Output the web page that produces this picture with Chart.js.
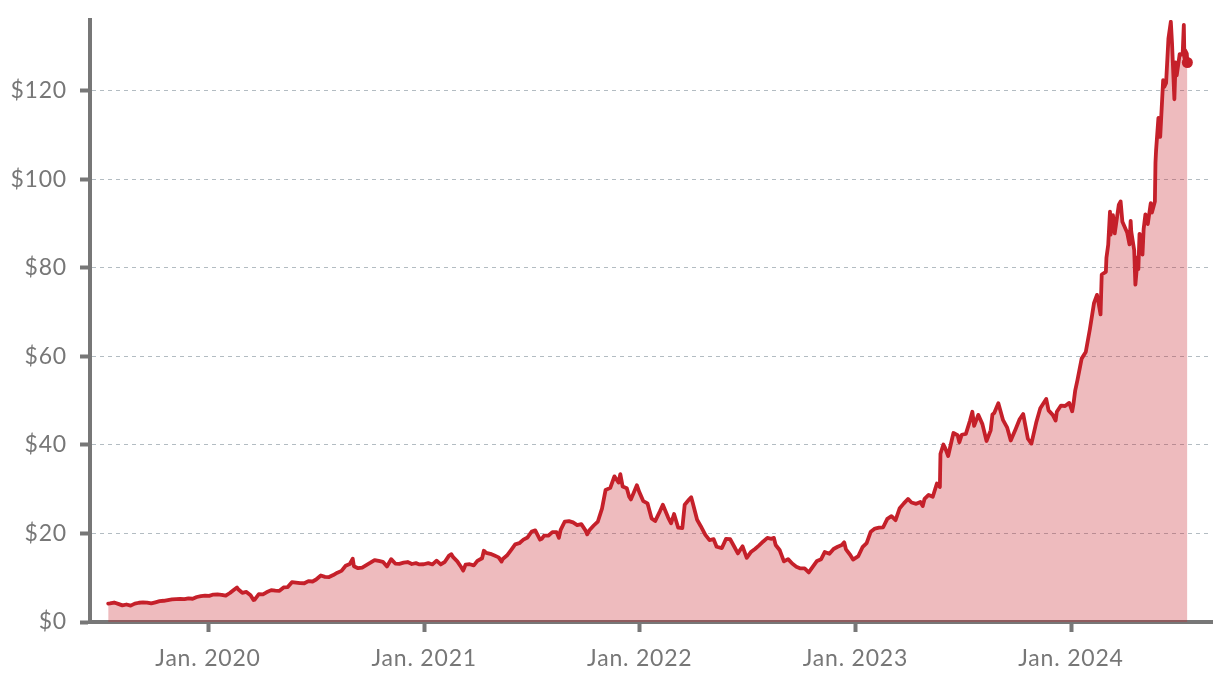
<!DOCTYPE html>
<html>
<head>
<meta charset="utf-8">
<script src="https://cdn.jsdelivr.net/npm/chart.js@4.4.1/dist/chart.umd.min.js"></script>
<style>
  html, body { margin: 0; padding: 0; background: #ffffff; }
  #wrap { width: 1220px; height: 682px; }
</style>
</head>
<body>
<div id="wrap"><canvas id="c" width="1220" height="682"></canvas></div>
<script>
// ---- data (closing price, USD) ----
const dates2019 = ['07-16','07-19','07-26','08-02','08-09','08-16','08-23','08-30','09-06','09-13','09-20','09-27','10-04','10-11','10-18','10-25','11-01','11-08','11-15','11-22','11-29','12-06','12-13','12-20','12-27'];
const prices2019 = [4.15,4.20,4.40,4.10,3.75,3.95,3.70,4.15,4.35,4.45,4.40,4.20,4.45,4.70,4.80,4.95,5.10,5.15,5.20,5.15,5.35,5.25,5.65,5.85,5.95];

const dates2020 = ['01-03','01-10','01-17','01-24','01-31','02-07','02-14','02-19','02-21','02-28','03-06','03-13','03-18','03-20','03-27','04-03','04-09','04-17','04-24','05-01','05-08','05-15','05-22','05-29','06-05','06-12','06-19','06-26','07-02','07-10','07-17','07-24','07-31','08-07','08-14','08-21','08-28','09-02','09-04','09-11','09-18','09-25','10-02','10-09','10-16','10-23','10-30','11-06','11-13','11-20','11-27','12-04','12-11','12-18','12-24','12-31'];
const prices2020 = [5.90,6.20,6.25,6.15,5.95,6.55,7.30,7.80,7.40,6.60,6.80,6.05,4.95,5.05,6.30,6.25,6.70,7.20,7.10,7.05,7.80,7.90,9.00,8.90,8.80,8.75,9.25,9.15,9.60,10.50,10.20,10.15,10.60,11.15,11.55,12.70,13.10,14.30,12.60,12.15,12.30,12.85,13.40,14.00,13.80,13.60,12.55,14.20,13.20,13.15,13.40,13.55,13.10,13.30,13.00,13.05];

const dates2021 = ['01-08','01-15','01-22','01-29','02-05','02-12','02-16','02-19','02-26','03-05','03-08','03-12','03-19','03-26','04-01','04-09','04-12','04-16','04-23','04-30','05-07','05-12','05-14','05-21','05-28','06-04','06-11','06-18','06-25','07-02','07-08','07-16','07-19','07-23','07-30','08-06','08-13','08-17','08-20','08-27','09-03','09-10','09-17','09-24','10-01','10-04','10-08','10-15','10-22','10-29','11-04','11-12','11-19','11-26','11-29','12-03','12-10','12-14','12-17','12-27','12-31'];
const prices2021 = [13.30,13.00,13.85,13.00,13.60,15.00,15.30,14.65,13.70,12.30,11.60,12.95,13.05,12.80,13.80,14.40,16.10,15.60,15.40,15.00,14.60,13.65,14.25,15.00,16.25,17.55,17.80,18.60,19.10,20.45,20.70,18.60,18.80,19.50,19.50,20.30,20.30,19.00,20.80,22.70,22.80,22.50,21.90,22.10,20.70,19.80,20.80,21.80,22.70,25.60,29.80,30.30,32.90,31.50,33.40,30.60,30.20,28.30,27.70,30.90,29.40];

const dates2022 = ['01-07','01-14','01-21','01-27','02-04','02-09','02-18','02-23','02-28','03-07','03-14','03-18','03-25','03-29','04-01','04-08','04-14','04-22','04-29','05-06','05-11','05-20','05-27','06-03','06-10','06-16','06-24','07-01','07-08','07-15','07-22','07-29','08-05','08-12','08-16','08-19','08-26','09-02','09-09','09-16','09-23','09-30','10-07','10-14','10-21','10-28','11-04','11-10','11-18','11-25','12-02','12-09','12-13','12-16','12-23','12-28'];
const prices2022 = [27.30,26.80,23.40,22.80,25.00,26.50,23.60,22.30,24.40,21.30,21.20,26.50,27.60,28.20,26.70,23.10,21.70,19.70,18.50,18.70,17.00,16.70,18.80,18.70,17.00,15.50,17.10,14.50,15.80,16.50,17.30,18.20,19.00,18.80,19.00,17.40,16.20,13.70,14.20,13.20,12.50,12.10,12.10,11.20,12.50,13.80,14.20,15.80,15.40,16.50,17.00,17.40,18.00,16.40,15.20,14.10];

const dates2023 = ['01-06','01-13','01-20','01-27','02-03','02-10','02-17','02-24','03-03','03-10','03-17','03-24','03-31','04-06','04-14','04-21','04-25','04-28','05-05','05-12','05-19','05-24','05-25','05-30','06-02','06-07','06-13','06-16','06-23','06-26','06-30','07-07','07-14','07-18','07-21','07-28','08-04','08-11','08-18','08-21','08-24','08-31','09-08','09-15','09-21','09-29','10-06','10-12','10-20','10-26','11-03','11-10','11-20','11-24','12-01','12-06','12-08','12-15','12-22','12-29'];
const prices2023 = [14.90,16.90,17.80,20.40,21.10,21.30,21.40,23.30,23.90,23.00,25.70,26.80,27.80,27.00,26.70,27.10,26.20,27.80,28.70,28.30,31.30,30.50,38.00,40.10,39.30,37.50,41.00,42.70,42.20,40.60,42.30,42.50,45.50,47.50,44.30,46.80,44.70,40.90,43.30,46.90,47.20,49.40,45.60,43.90,41.00,43.50,45.80,47.00,41.40,40.30,45.00,48.30,50.40,47.80,46.80,45.50,47.50,48.90,48.80,49.50];

const dates2024 = ['01-03','01-05','01-08','01-12','01-19','01-26','02-02','02-09','02-14','02-16','02-20','02-22','02-29','03-01','03-04','03-07','03-08','03-12','03-15','03-22','03-25','03-28','04-05','04-09','04-11','04-12','04-17','04-19','04-23','04-24','04-26','04-30','05-01','05-03','05-06','05-10','05-15','05-17','05-22','05-23','05-24','05-28','05-31','06-05','06-07','06-10','06-14','06-18','06-20','06-24','06-26','06-28','07-03','07-08','07-10','07-11','07-12','07-15','07-16'];
const prices2024 = [47.60,49.10,52.20,54.70,59.50,61.00,66.20,72.10,73.90,72.60,69.50,78.50,79.10,82.30,85.20,92.70,87.50,91.90,87.80,94.30,95.00,90.40,88.00,85.30,90.60,88.20,84.00,76.20,82.40,79.70,87.70,86.40,83.00,88.80,92.10,89.90,94.60,92.50,95.00,103.80,106.50,113.90,109.60,122.40,120.90,121.80,131.90,135.60,130.80,118.10,126.40,123.50,128.30,128.20,134.90,127.40,129.20,128.40,126.40];

const xTickDates = ['2020-01-01','2021-01-01','2022-01-01','2023-01-01','2024-01-01'];
const xTickLabels = ['Jan. 2020','Jan. 2021','Jan. 2022','Jan. 2023','Jan. 2024'];
const yTickValues = [0, 20, 40, 60, 80, 100, 120];

// ---- build points ----
const DAY = 86400000;
function dayNum(iso) {
  const [y, m, d] = iso.split('-').map(Number);
  return Date.UTC(y, m - 1, d) / DAY;
}
const yearSets = [
  [2019, dates2019, prices2019], [2020, dates2020, prices2020], [2021, dates2021, prices2021],
  [2022, dates2022, prices2022], [2023, dates2023, prices2023], [2024, dates2024, prices2024]
];
const points = [];
yearSets.forEach(([yr, ds, ps]) => {
  ds.forEach((md, i) => points.push({ x: dayNum(yr + '-' + md), y: ps[i] }));
});
const xTickValues = xTickDates.map(dayNum);

const AXIS = '#777777';
const FONT = { family: 'Lato, "DejaVu Sans", sans-serif', size: 23 };

const spacingPlugin = {
  id: 'spacing',
  beforeDraw: chart => { chart.ctx.letterSpacing = '0.8px'; }
};

new Chart(document.getElementById('c'), {
  type: 'line',
  plugins: [spacingPlugin],
  data: {
    datasets: [{
      data: points,
      borderColor: '#c5202a',
      borderWidth: 3.8,
      borderJoinStyle: 'round',
      borderCapStyle: 'round',
      backgroundColor: 'rgba(200,30,40,0.3)',
      fill: 'origin',
      tension: 0,
      pointRadius: points.map((p, i) => i === points.length - 1 ? 5.5 : 0),
      pointBackgroundColor: '#c5202a',
      pointBorderWidth: 0,
      pointHoverRadius: 0
    }]
  },
  options: {
    responsive: false,
    animation: false,
    devicePixelRatio: 1,
    layout: { padding: { top: 20, right: 8, left: 0, bottom: 0 } },
    plugins: { legend: { display: false }, tooltip: { enabled: false } },
    scales: {
      x: {
        type: 'linear',
        min: 18062.2,
        max: 19961.7,
        afterBuildTicks: s => { s.ticks = xTickValues.map(v => ({ value: v })); },
        afterFit: s => { s.height = 60; s.paddingLeft = 0; s.paddingRight = 0; },
        ticks: {
          autoSkip: false, maxRotation: 0, padding: 13,
          color: AXIS, font: FONT,
          callback: (v, i) => xTickLabels[i]
        },
        grid: { drawOnChartArea: false, drawTicks: true, tickLength: 10, tickWidth: 4, tickColor: AXIS },
        border: { display: true, color: AXIS, width: 4 }
      },
      y: {
        min: 0,
        max: 136,
        afterBuildTicks: s => { s.ticks = yTickValues.map(v => ({ value: v })); },
        afterFit: s => { s.width = 90; s.paddingTop = 0; s.paddingBottom = 0; },
        ticks: {
          padding: 13, color: AXIS, font: FONT,
          callback: v => '$' + v
        },
        grid: { color: '#b3bcc2', lineWidth: 1, drawTicks: true, tickLength: 10, tickWidth: 4, tickColor: AXIS, tickBorderDash: [] },
        border: { display: true, color: AXIS, width: 4, dash: [4, 4] }
      }
    }
  }
});
</script>
</body>
</html>
